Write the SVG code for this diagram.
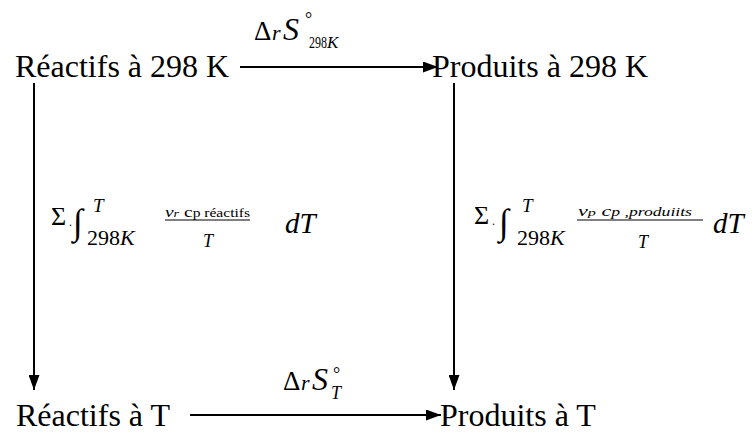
<svg xmlns="http://www.w3.org/2000/svg" width="752" height="432" viewBox="0 0 752 432">
<defs>
<marker id="ah" viewBox="0 0 10 10" refX="10" refY="5" markerWidth="15" markerHeight="11" markerUnits="userSpaceOnUse" orient="auto" preserveAspectRatio="none"><path d="M0,0 L10,5 L0,10 z" fill="#000"/></marker>
</defs>
<rect width="752" height="432" fill="#fff"/>
<g id="n1"><text x="15" y="77" font-family="Liberation Serif" font-size="32">Réactifs à 298 K</text></g>
<g id="n2"><text x="432" y="77" font-family="Liberation Serif" font-size="32">Produits à 298 K</text></g>
<g id="n3"><text x="16" y="426" font-family="Liberation Serif" font-size="32">Réactifs à T</text></g>
<g id="n4"><text x="440" y="426" font-family="Liberation Serif" font-size="32">Produits à T</text></g>
<g id="connectors" stroke="#000" stroke-width="2" fill="none">
<line x1="240" y1="67" x2="438" y2="67" marker-end="url(#ah)"/>
<line x1="190" y1="415" x2="441" y2="415" marker-end="url(#ah)"/>
<line x1="34" y1="83" x2="34" y2="390" marker-end="url(#ah)"/>
<line x1="454" y1="83" x2="454" y2="390" marker-end="url(#ah)"/>
</g>
<g id="label-top">
<text x="254" y="40" font-family="Liberation Serif" font-size="27">Δ</text>
<text x="272" y="40" font-family="Liberation Serif" font-size="22" font-style="italic">r</text>
<text x="283" y="40" font-family="Liberation Serif" font-size="32" font-style="italic">S</text>
<text x="305" y="25" font-family="Liberation Serif" font-size="18">°</text>
<text x="0" y="48" font-family="Liberation Serif" font-size="16" transform="translate(309 0) scale(0.75 1)">298</text>
<text x="327" y="48" font-family="Liberation Serif" font-size="17" font-style="italic">K</text>
</g>
<g id="label-bottom">
<text x="283" y="390" font-family="Liberation Serif" font-size="27">Δ</text>
<text x="301" y="390" font-family="Liberation Serif" font-size="22" font-style="italic">r</text>
<text x="312" y="390" font-family="Liberation Serif" font-size="32" font-style="italic">S</text>
<text x="333" y="380" font-family="Liberation Serif" font-size="18">°</text>
<text x="331" y="399" font-family="Liberation Serif" font-size="18" font-style="italic">T</text>
</g>
<g id="label-left">
<text x="51" y="225" font-family="Liberation Serif" font-size="26">Σ</text>
<text x="69" y="226" font-family="Liberation Serif" font-size="12">.</text>
<text x="73" y="234" font-family="Liberation Serif" font-size="36">∫</text>
<text x="93" y="212" font-family="Liberation Serif" font-size="19" font-style="italic">T</text>
<text x="87" y="245" font-family="Liberation Serif" font-size="22">298<tspan font-style="italic">K</tspan></text>
<text x="165" y="217" font-family="Liberation Serif" font-size="15" textLength="85" lengthAdjust="spacingAndGlyphs"><tspan font-style="italic">ν</tspan><tspan font-style="italic" font-size="11">r</tspan> c<tspan font-size="12">p réactifs</tspan></text>
<line x1="165" y1="220" x2="250" y2="220" stroke="#000" stroke-width="1"/>
<text x="203" y="247" font-family="Liberation Serif" font-size="18" font-style="italic">T</text>
<text x="285" y="233" font-family="Liberation Serif" font-size="29" font-style="italic">dT</text>
</g>
<g id="label-right">
<text x="474" y="224" font-family="Liberation Serif" font-size="26">Σ</text>
<text x="492" y="225" font-family="Liberation Serif" font-size="12">.</text>
<text x="499" y="234" font-family="Liberation Serif" font-size="36">∫</text>
<text x="522" y="212" font-family="Liberation Serif" font-size="19" font-style="italic">T</text>
<text x="517" y="245" font-family="Liberation Serif" font-size="22">298<tspan font-style="italic">K</tspan></text>
<text x="578" y="216" font-family="Liberation Serif" font-size="15" font-style="italic" textLength="114" lengthAdjust="spacingAndGlyphs">ν<tspan font-size="11">p</tspan> c<tspan font-size="12">p ,produiits</tspan></text>
<line x1="577" y1="220" x2="703" y2="220" stroke="#000" stroke-width="1"/>
<text x="638" y="248" font-family="Liberation Serif" font-size="18" font-style="italic">T</text>
<text x="713" y="233" font-family="Liberation Serif" font-size="29" font-style="italic">dT</text>
</g>
</svg>
